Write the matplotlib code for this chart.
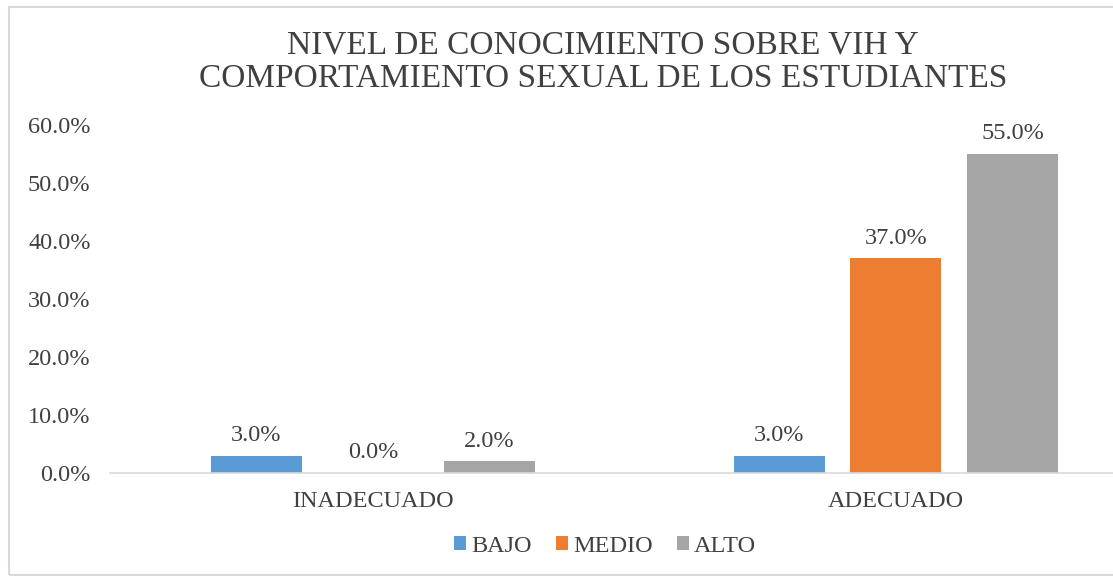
import numpy as np
import matplotlib.pyplot as plt
from matplotlib.patches import Rectangle

categories = ["INADECUADO", "ADECUADO"]
series = ["BAJO", "MEDIO", "ALTO"]
bajo = [3.0, 3.0]
medio = [0.0, 37.0]
alto = [2.0, 55.0]
colors = ["#5B9BD5", "#ED7D31", "#A5A5A5"]
yticks = [0, 10, 20, 30, 40, 50, 60]

plt.rcParams['font.family'] = ['Liberation Serif', 'DejaVu Serif']
txt = "#404040"

fig = plt.figure(figsize=(11.13, 5.79), dpi=100)
W, H = 1113, 579
ax = fig.add_axes([110 / W, 1 - 473 / H, 1 - 110 / W, (473 - 125) / H])

x = np.arange(len(categories))
width = 0.174
step = 0.223
for i, (name, vals) in enumerate(zip(series, [bajo, medio, alto])):
    bars = ax.bar(x + (i - 1) * step, vals, width, color=colors[i], label=name)
    for b, v in zip(bars, vals):
        ax.annotate(f"{v:.1f}%", (b.get_x() + b.get_width() / 2, v),
                    xytext=(0, 7), textcoords="offset points",
                    ha="center", va="bottom", fontsize=17.5, color=txt)

ax.set_xlim(-0.503, 1.415)
ax.set_ylim(0, 60)
ax.set_yticks(yticks)
ax.set_yticklabels([f"{t:.1f}%" for t in yticks], fontsize=17.5, color=txt)
ax.set_xticks(x)
ax.set_xticklabels(categories, fontsize=17.5, color=txt)
ax.tick_params(length=0)
ax.tick_params(axis="y", pad=14)
ax.tick_params(axis="x", pad=13)
for s in ["top", "right", "left"]:
    ax.spines[s].set_visible(False)
ax.spines["bottom"].set_color("#D9D9D9")
ax.spines["bottom"].set_linewidth(1.2)

fig.text(603 / W, 1 - 62 / H, "NIVEL DE CONOCIMIENTO SOBRE VIH Y\nCOMPORTAMIENTO SEXUAL DE LOS ESTUDIANTES",
         ha="center", va="center", fontsize=24, color=txt, linespacing=1.13)

leg = fig.legend(loc="center", bbox_to_anchor=(605 / W, 1 - 546 / H), ncol=3, frameon=False,
                 fontsize=17.5, handlelength=0.5, handleheight=0.5, handletextpad=0.2,
                 columnspacing=1.0, labelcolor=txt)

fig.patches.append(Rectangle((9 / W, 4 / H), 1.2, 1 - 11 / H, transform=fig.transFigure,
                             fill=False, edgecolor="#D9D9D9", linewidth=1.5))

fig.savefig("out.png", dpi=100)
